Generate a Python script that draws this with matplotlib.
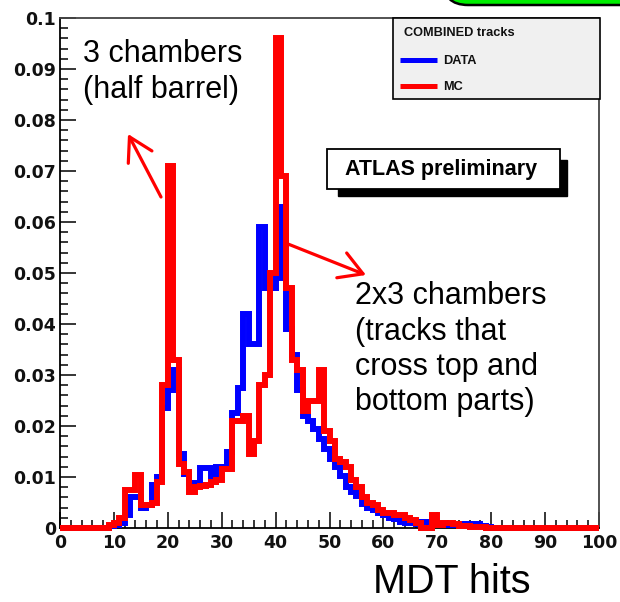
import numpy as np
import matplotlib
matplotlib.use("Agg")
import matplotlib.pyplot as plt
from matplotlib.patches import Rectangle, FancyBboxPatch, FancyArrowPatch
from matplotlib.lines import Line2D
from matplotlib.ticker import MultipleLocator, FixedLocator, FixedFormatter

# ---- histogram contents: number of MDT hits per track, unit-width bins 0..99 ----
bin_edges = list(range(0, 101))

data_counts = [
    0, 0, 0, 0, 0, 0, 0, 0, 0, 0.0003,                                    # 0-9
    0.0005, 0.001, 0.0025, 0.006, 0.006, 0.004, 0.0045, 0.0084, 0.0100, 0.0235,  # 10-19
    0.027, 0.031, 0.0145, 0.0105, 0.0088, 0.0085, 0.0118, 0.0118, 0.0100, 0.0120,  # 20-29
    0.0120, 0.0150, 0.0225, 0.0275, 0.042, 0.036, 0.036, 0.059, 0.047, 0.047,    # 30-39
    0.049, 0.063, 0.039, 0.034, 0.027, 0.022, 0.021, 0.0195, 0.0175, 0.0155,     # 40-49
    0.0135, 0.012, 0.0102, 0.008, 0.007, 0.0063, 0.0048, 0.004, 0.0035, 0.003,   # 50-59
    0.0025, 0.002, 0.0018, 0.0012, 0.001, 0.001, 0.0008, 0.0012, 0.0012, 0.001,  # 60-69
    0.0008, 0.0008, 0.0006, 0.0006, 0.0006, 0.0008, 0.0008, 0.0008, 0.0004, 0.0002,  # 70-79
    0, 0, 0, 0, 0, 0, 0, 0, 0, 0,                                          # 80-89
    0, 0, 0, 0, 0, 0, 0, 0, 0, 0,                                          # 90-99
]

mc_counts = [
    0, 0, 0, 0, 0, 0, 0, 0, 0, 0.0005,                                    # 0-9
    0.001, 0.002, 0.0075, 0.0075, 0.0104, 0.0045, 0.0045, 0.005, 0.009, 0.028,   # 10-19
    0.071, 0.033, 0.0125, 0.011, 0.007, 0.008, 0.0083, 0.0085, 0.009, 0.0095,    # 20-29
    0.0115, 0.0115, 0.021, 0.021, 0.022, 0.0145, 0.017, 0.028, 0.030, 0.050,     # 30-39
    0.096, 0.069, 0.047, 0.033, 0.031, 0.023, 0.025, 0.025, 0.031, 0.019,        # 40-49
    0.017, 0.0135, 0.013, 0.012, 0.0095, 0.008, 0.006, 0.005, 0.0045, 0.0035,    # 50-59
    0.003, 0.003, 0.0025, 0.0025, 0.002, 0.0015, 0.001, 0, 0, 0.0025,           # 60-69
    0.0005, 0.001, 0.001, 0.0008, 0.0003, 0.0003, 0.0002, 0.0002, 0.0001, 0,     # 70-79
    0, 0, 0, 0, 0, 0, 0, 0, 0, 0,                                          # 80-89
    0, 0, 0, 0, 0, 0, 0, 0, 0, 0,                                          # 90-99
]

x_ticks = [0, 10, 20, 30, 40, 50, 60, 70, 80, 90, 100]
x_tick_labels = ["0", "10", "20", "30", "40", "50", "60", "70", "80", "90", "100"]
y_ticks = [0, 0.01, 0.02, 0.03, 0.04, 0.05, 0.06, 0.07, 0.08, 0.09, 0.1]
y_tick_labels = ["0", "0.01", "0.02", "0.03", "0.04", "0.05", "0.06", "0.07", "0.08", "0.09", "0.1"]

series_names = ["DATA", "MC"]
series_colors = ["#0000ff", "#ff0000"]

# ---- figure geometry (pixels) ----
W, H = 620, 602
fig = plt.figure(figsize=(W / 100, H / 100), dpi=100)
fig.patch.set_facecolor("white")

ax_left, ax_right, ax_top, ax_bottom = 60, 599, 18, 528
ax = fig.add_axes([ax_left / W, 1 - ax_bottom / H,
                   (ax_right - ax_left) / W, (ax_bottom - ax_top) / H])
ax.set_xlim(0, 100)
ax.set_ylim(0, 0.1)
ax.set_facecolor("white")


def px(x, y):
    """pixel position (origin top-left) -> inches for dpi_scale_trans"""
    return x / 100, (H - y) / 100


def fpx(x, y):
    """pixel position (origin top-left) -> figure fraction"""
    return x / W, 1 - y / H


tr = fig.dpi_scale_trans

# histograms (MC on top of DATA)
edges = np.array(bin_edges, dtype=float)
for vals, col, z in [(data_counts, series_colors[0], 3), (mc_counts, series_colors[1], 4)]:
    st = ax.stairs(np.array(vals), edges, baseline=None, color=col,
                   linewidth=4.3, clip_on=False, zorder=z)
    st.set_joinstyle("miter")
    st.set_capstyle("butt")

# axes frame & ticks
for side in ["left", "bottom"]:
    ax.spines[side].set_color("black")
    ax.spines[side].set_linewidth(1.3)
for side in ["top", "right"]:
    ax.spines[side].set_color("#444444")
    ax.spines[side].set_linewidth(1.3)

ax.xaxis.set_major_locator(FixedLocator(x_ticks))
ax.xaxis.set_major_formatter(FixedFormatter(x_tick_labels))
ax.xaxis.set_minor_locator(MultipleLocator(2))
ax.yaxis.set_major_locator(FixedLocator(y_ticks))
ax.yaxis.set_major_formatter(FixedFormatter(y_tick_labels))
ax.yaxis.set_minor_locator(MultipleLocator(0.002))

ax.tick_params(axis="both", which="both", direction="in", top=False, right=False,
               color="black", width=1.1)
ax.tick_params(axis="both", which="major", length=11.5)
ax.tick_params(axis="both", which="minor", length=6.0)
ax.tick_params(axis="x", which="major", pad=4)
ax.tick_params(axis="y", which="major", pad=3)
for lab in ax.get_xticklabels() + ax.get_yticklabels():
    lab.set_fontfamily("DejaVu Sans")
    lab.set_fontweight("bold")
    lab.set_fontsize(12.5)
    lab.set_color("#111111")

# ---- green box (partially outside, top right) ----
gx0, gy0 = px(443, 5)
green = FancyBboxPatch((gx0, gy0), 3.0, 0.6, boxstyle="round,pad=0,rounding_size=0.25",
                       transform=tr, facecolor="#00ee00", edgecolor="black",
                       linewidth=1.8, zorder=5)
fig.add_artist(green)

# ---- legend box ----
lx0, ly0 = px(393, 99)
leg = Rectangle((lx0, ly0), (600 - 393) / 100, (99 - 18) / 100, transform=tr,
                facecolor="#f0f0f0", edgecolor="black", linewidth=1.2, zorder=5)
fig.add_artist(leg)
fig.text(*fpx(404, 33), "COMBINED tracks",
         fontfamily="Liberation Sans", fontweight="bold", fontsize=9.2,
         ha="left", va="center", color="#111111", zorder=6)
for i, (name, col) in enumerate(zip(series_names, series_colors)):
    yy = 60 + i * 26
    xa, ya = px(400, yy)
    xb, _ = px(437, yy)
    fig.add_artist(Line2D([xa, xb], [ya, ya], transform=tr, color=col,
                          linewidth=3.6, solid_capstyle="butt", zorder=6))
    fig.text(*fpx(443, yy + 1), name, fontfamily="Liberation Sans",
             fontweight="bold", fontsize=9.2, ha="left", va="center",
             color="#111111", zorder=6)

# ---- ATLAS label box with drop shadow ----
sx, sy = px(338, 196)
fig.add_artist(Rectangle((sx, sy), (567 - 338) / 100, (196 - 160) / 100, transform=tr,
                         facecolor="black", edgecolor="black", linewidth=1, zorder=5))
bx, by = px(327, 189)
fig.add_artist(Rectangle((bx, by), (560 - 327) / 100, (189 - 149) / 100, transform=tr,
                         facecolor="white", edgecolor="black", linewidth=1.3, zorder=6))
fig.text(*fpx(441.5, 169), "ATLAS preliminary", fontfamily="Liberation Sans",
         fontweight="bold", fontsize=15.5, ha="center", va="center",
         color="black", zorder=7)

# ---- annotations ----
note_kw = dict(fontfamily="Liberation Sans", fontsize=22, color="black",
               ha="left", va="baseline", zorder=8)
for txt, yb in [("3 chambers", 62), ("(half barrel)", 98)]:
    fig.text(*fpx(83, yb), txt, **note_kw)
for txt, yb in [("2x3 chambers", 304), ("(tracks that", 340),
                ("cross top and", 375), ("bottom parts)", 410)]:
    fig.text(*fpx(355, yb), txt, **note_kw)

fig.text(*fpx(373, 593), "MDT hits", fontfamily="Liberation Sans",
         fontsize=28.5, color="black", ha="left", va="baseline")

for (x0, y0), (x1, y1) in [((161, 197), (128, 134)), ((288, 244), (366, 275))]:
    arr = FancyArrowPatch(px(x0, y0), px(x1, y1), transform=tr,
                          arrowstyle="->,head_length=0.55,head_width=0.32",
                          mutation_scale=30, color="#ff0000", linewidth=2.3,
                          shrinkA=0, shrinkB=0, zorder=8)
    fig.add_artist(arr)

fig.savefig("out.png", dpi=100)
